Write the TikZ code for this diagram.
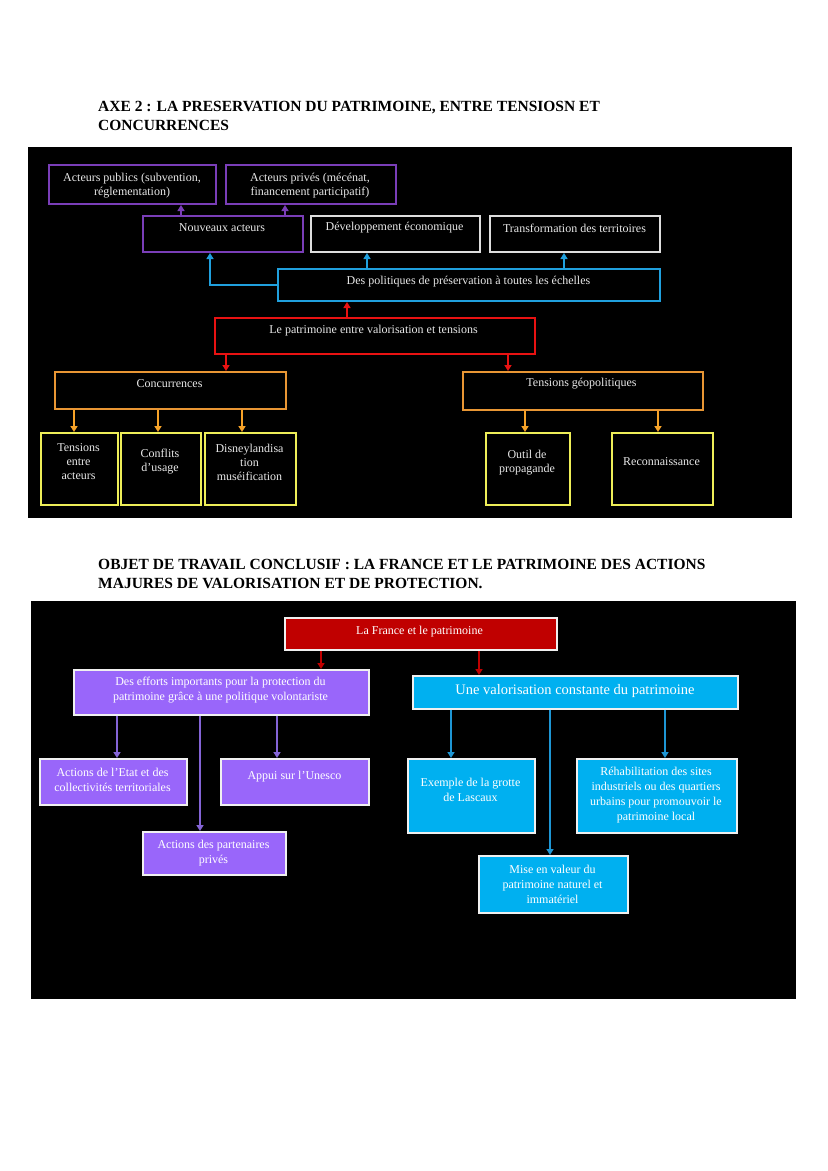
\documentclass[tikz,border=0pt]{standalone}
\usepackage{fontspec}
\setmainfont{Liberation Serif}
\usetikzlibrary{arrows.meta}
\definecolor{tPurple}{RGB}{122,62,184}
\definecolor{tGrey}{RGB}{222,222,222}
\definecolor{tBlue}{RGB}{32,160,222}
\definecolor{tRed}{RGB}{232,18,18}
\definecolor{tOrange}{RGB}{232,150,52}
\definecolor{tOrangeA}{RGB}{246,162,40}
\definecolor{tYellow}{RGB}{238,238,88}
\definecolor{tText}{RGB}{232,232,232}
\definecolor{bRed}{RGB}{192,0,0}
\definecolor{bPurple}{RGB}{153,102,250}
\definecolor{bPurpleA}{RGB}{132,100,214}
\definecolor{bCyan}{RGB}{0,176,240}
\definecolor{bBlueA}{RGB}{30,150,212}
\definecolor{bBorder}{RGB}{240,240,240}
\begin{document}
\begin{tikzpicture}[x=1pt,y=-1pt,
  tbox/.style={draw=#1, line width=2pt, fill=black, anchor=north west, inner sep=0pt},
  bbox/.style={draw=bBorder, fill=#1, line width=1.8pt, anchor=north west, inner sep=0pt},
  ttxt/.style={text=tText, align=center, inner sep=0pt, font=\fontsize{12}{14}\selectfont},
  btxt/.style={text=white, align=center, inner sep=0pt, font=\fontsize{12}{15}\selectfont},
  title/.style={anchor=north west, inner sep=0pt, align=left, font=\fontsize{15.5}{19}\selectfont\bfseries},
  arr/.style={draw=#1, line width=1.5pt, -{Triangle[width=7pt,length=6pt]}}
]
\useasboundingbox (0,0) rectangle (828,1171);
\fill[white] (0,0) rectangle (828,1171);

% ---------- titles ----------
\node[title] (t1) at (98,101) {AXE 2 : LA PRESERVATION DU PATRIMOINE, ENTRE TENSIOSN ET\\CONCURRENCES};
\node[title] (t2) at (98,559) {OBJET DE TRAVAIL CONCLUSIF : LA FRANCE ET LE PATRIMOINE DES ACTIONS\\MAJURES DE VALORISATION ET DE PROTECTION.};

% ---------- top panel ----------
\fill[black] (28,147) rectangle (792,518);

\node[tbox=tPurple, minimum width=167pt, minimum height=39pt] (pub)  at (48,164) {};
\node[tbox=tPurple, minimum width=170pt, minimum height=39pt] (priv) at (225,164) {};
\node[tbox=tPurple, minimum width=160pt, minimum height=36pt] (nouv) at (142,215) {};
\node[tbox=tGrey,   minimum width=169pt, minimum height=36pt] (dev)  at (310,215) {};
\node[tbox=tGrey,   minimum width=170pt, minimum height=36pt] (trans) at (489,215) {};
\node[tbox=tBlue,   minimum width=382pt, minimum height=32pt] (pol)  at (277,268) {};
\node[tbox=tRed,    minimum width=320pt, minimum height=36pt] (pat)  at (214,317) {};
\node[tbox=tOrange, minimum width=231pt, minimum height=37pt] (conc) at (54,371) {};
\node[tbox=tOrange, minimum width=240pt, minimum height=38pt] (geo)  at (462,371) {};
\node[tbox=tYellow, minimum width=77pt,  minimum height=72pt] (tens) at (40,432) {};
\node[tbox=tYellow, minimum width=80pt,  minimum height=72pt] (conf) at (120,432) {};
\node[tbox=tYellow, minimum width=91pt,  minimum height=72pt] (disn) at (204,432) {};
\node[tbox=tYellow, minimum width=84pt,  minimum height=72pt] (outil) at (485,432) {};
\node[tbox=tYellow, minimum width=101pt, minimum height=72pt] (reco) at (611,432) {};

\node[ttxt] (pub-t)  at (132,186) {Acteurs publics (subvention,\\réglementation)};
\node[ttxt] (priv-t) at (310,186) {Acteurs privés (mécénat,\\financement participatif)};
\node[ttxt] (nouv-t) at (222,228) {Nouveaux acteurs};
\node[ttxt] (dev-t)  at (394.5,228) {Développement économique};
\node[ttxt] (trans-t) at (574.5,228) {Transformation des territoires};
\node[ttxt] (pol-t)  at (468.5,282) {Des politiques de préservation à toutes les échelles};
\node[ttxt] (pat-t)  at (373.5,331) {Le patrimoine entre valorisation et tensions};
\node[ttxt] (conc-t) at (169.5,384) {Concurrences};
\node[ttxt] (geo-t)  at (581.5,384) {Tensions géopolitiques};
\node[ttxt] (tens-t) at (78.5,462) {Tensions\\entre\\acteurs};
\node[ttxt] (conf-t) at (160,462) {Conflits\\d’usage};
\node[ttxt] (disn-t) at (249.5,462) {Disneylandisa\\tion\\muséification};
\node[ttxt] (outil-t) at (527,462.5) {Outil de\\propagande};
\node[ttxt] (reco-t) at (661.5,462) {Reconnaissance};

% column coordinates (top)
\coordinate (xa) at (181,0);
\coordinate (xb) at (285,0);
\coordinate (xc) at (210,0);
\coordinate (xd) at (367,0);
\coordinate (xe) at (564,0);
\coordinate (xf) at (347,0);
\coordinate (xg) at (226,0);
\coordinate (xh) at (508,0);
\coordinate (xi) at (74,0);
\coordinate (xj) at (158,0);
\coordinate (xk) at (242,0);
\coordinate (xl) at (525,0);
\coordinate (xm) at (658,0);

\draw[arr=tPurple] (xa |- nouv.north) -- (xa |- pub.south);
\draw[arr=tPurple] (xb |- nouv.north) -- (xb |- priv.south);
\draw[arr=tBlue] (pol.west) -| (xc |- nouv.south);
\draw[arr=tBlue] (xd |- pol.north) -- (xd |- dev.south);
\draw[arr=tBlue] (xe |- pol.north) -- (xe |- trans.south);
\draw[arr=tRed] (xf |- pat.north) -- (xf |- pol.south);
\draw[arr=tRed] (xg |- pat.south) -- (xg |- conc.north);
\draw[arr=tRed] (xh |- pat.south) -- (xh |- geo.north);
\draw[arr=tOrangeA] (xi |- conc.south) -- (xi |- tens.north);
\draw[arr=tOrangeA] (xj |- conc.south) -- (xj |- conf.north);
\draw[arr=tOrangeA] (xk |- conc.south) -- (xk |- disn.north);
\draw[arr=tOrangeA] (xl |- geo.south) -- (xl |- outil.north);
\draw[arr=tOrangeA] (xm |- geo.south) -- (xm |- reco.north);

% ---------- bottom panel ----------
\fill[black] (31,601) rectangle (796,999);

\node[bbox=bRed,    minimum width=272pt, minimum height=32pt] (fr)   at (284,617) {};
\node[bbox=bPurple, minimum width=295pt, minimum height=45pt] (eff)  at (73,669) {};
\node[bbox=bPurple, minimum width=147pt, minimum height=46pt] (etat) at (39,758) {};
\node[bbox=bPurple, minimum width=148pt, minimum height=46pt] (appui) at (220,758) {};
\node[bbox=bPurple, minimum width=143pt, minimum height=43pt] (part) at (142,831) {};
\node[bbox=bCyan,   minimum width=325pt, minimum height=33pt] (val)  at (412,675) {};
\node[bbox=bCyan,   minimum width=127pt, minimum height=74pt] (exem) at (407,758) {};
\node[bbox=bCyan,   minimum width=160pt, minimum height=74pt] (rehab) at (576,758) {};
\node[bbox=bCyan,   minimum width=149pt, minimum height=57pt] (mise) at (478,855) {};

\node[btxt] (fr-t)   at (419.5,632) {La France et le patrimoine};
\node[btxt] (eff-t)  at (220.5,690) {Des efforts importants pour la protection du\\patrimoine grâce à une politique volontariste};
\node[btxt] (etat-t) at (112.5,780) {Actions de l'Etat et des\\collectivités territoriales};
\node[btxt] (appui-t) at (294.5,777) {Appui sur l'Unesco};
\node[btxt] (part-t) at (213.5,853) {Actions des partenaires\\privés};
\node[btxt, font=\fontsize{14.5}{17}\selectfont] (val-t) at (575,691) {Une valorisation constante du patrimoine};
\node[btxt] (exem-t) at (470.5,790) {Exemple de la grotte\\de Lascaux};
\node[btxt] (rehab-t) at (656,795) {Réhabilitation des sites\\industriels ou des quartiers\\urbains pour promouvoir le\\patrimoine local};
\node[btxt] (mise-t) at (552.5,884) {Mise en valeur du\\patrimoine naturel et\\immatériel};

% column coordinates (bottom)
\coordinate (ya) at (321,0);
\coordinate (yb) at (479,0);
\coordinate (yc) at (117,0);
\coordinate (yd) at (200,0);
\coordinate (ye) at (277,0);
\coordinate (yf) at (451,0);
\coordinate (yg) at (550,0);
\coordinate (yh) at (665,0);

\draw[arr=bRed] (ya |- fr.south) -- (ya |- eff.north);
\draw[arr=bRed] (yb |- fr.south) -- (yb |- val.north);
\draw[arr=bPurpleA] (yc |- eff.south) -- (yc |- etat.north);
\draw[arr=bPurpleA] (yd |- eff.south) -- (yd |- part.north);
\draw[arr=bPurpleA] (ye |- eff.south) -- (ye |- appui.north);
\draw[arr=bBlueA] (yf |- val.south) -- (yf |- exem.north);
\draw[arr=bBlueA] (yg |- val.south) -- (yg |- mise.north);
\draw[arr=bBlueA] (yh |- val.south) -- (yh |- rehab.north);
\end{tikzpicture}
\end{document}
